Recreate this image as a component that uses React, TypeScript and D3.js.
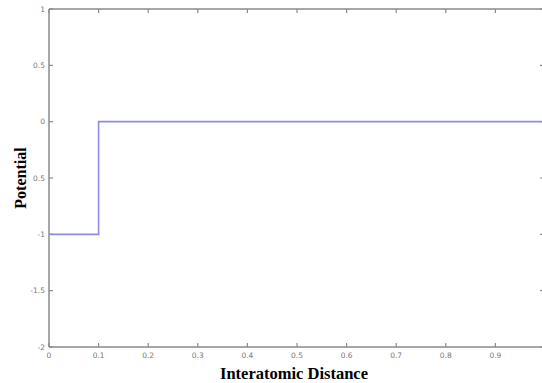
import React from "react";
import * as d3 from "d3";

const xTicks = [0, 0.1, 0.2, 0.3, 0.4, 0.5, 0.6, 0.7, 0.8, 0.9, 1];
const xTickLabels = ["0", "0.1", "0.2", "0.3", "0.4", "0.5", "0.6", "0.7", "0.8", "0.9", ""];
const yTicks = [1, 0.5, 0, -0.5, -1, -1.5, -2];
const yTickLabels = ["1", "0.5", "0", "0.5", "-1", "-1.5", "-2"];
const distance = [0, 0.1, 0.1, 1];
const potential = [-1, -1, 0, 0];

const W = 542, H = 383;
const L = 49, R = 545, T = 9, B = 347;

export default function App() {
  const x = d3.scaleLinear().domain([0, 1]).range([L, R]);
  const y = d3.scaleLinear().domain([-2, 1]).range([B, T]);
  const line = d3.line<number>().x((_, i) => x(distance[i])).y((d) => y(d));
  const axisColor = "#8a8a8a";
  const tickLen = 4;
  return (
    <svg width={W} height={H} style={{ position: "absolute", left: 0, top: 0, background: "#fff" }}>
      <rect x={0} y={0} width={W} height={H} fill="#fff" />
      <line x1={L} x2={R} y1={T} y2={T} stroke={axisColor} strokeWidth={1.5} />
      <line x1={L} x2={R} y1={B} y2={B} stroke={axisColor} strokeWidth={1.5} />
      <line x1={L} x2={L} y1={T} y2={B} stroke={axisColor} strokeWidth={1.5} />
      <line x1={R} x2={R} y1={T} y2={B} stroke={axisColor} strokeWidth={1.5} />
      {xTicks.map((t, i) => (
        <g key={"x" + i}>
          <line x1={x(t)} x2={x(t)} y1={B} y2={B - tickLen} stroke={axisColor} strokeWidth={1.2} />
          <line x1={x(t)} x2={x(t)} y1={T} y2={T + tickLen} stroke={axisColor} strokeWidth={1.2} />
          {xTickLabels[i] && (
            <text x={x(t)} y={B + 11} textAnchor="middle" fontFamily="DejaVu Sans, sans-serif" fontSize={7.5} fill="#777">
              {xTickLabels[i]}
            </text>
          )}
        </g>
      ))}
      {yTicks.map((t, i) => (
        <g key={"y" + i}>
          <line x1={L} x2={L + tickLen} y1={y(t)} y2={y(t)} stroke={axisColor} strokeWidth={1.2} />
          <line x1={R} x2={R - tickLen - 1} y1={y(t)} y2={y(t)} stroke={axisColor} strokeWidth={1.2} />
          <text x={L - 4} y={y(t) + 2.5} textAnchor="end" fontFamily="DejaVu Sans, sans-serif" fontSize={7.5} fill="#777">
            {yTickLabels[i]}
          </text>
        </g>
      ))}
      <path d={line(potential) || ""} fill="none" stroke="#8c8ce6" strokeWidth={1.6} />
      <text x={294} y={379} textAnchor="middle" fontFamily="Liberation Serif, Times New Roman, serif" fontWeight="bold" fontSize={16.5} fill="#000">
        Interatomic Distance
      </text>
      <text transform={`translate(26,${(T + B) / 2}) rotate(-90)`} textAnchor="middle" fontFamily="Liberation Serif, Times New Roman, serif" fontWeight="bold" fontSize={16} fill="#000">
        Potential
      </text>
    </svg>
  );
}
